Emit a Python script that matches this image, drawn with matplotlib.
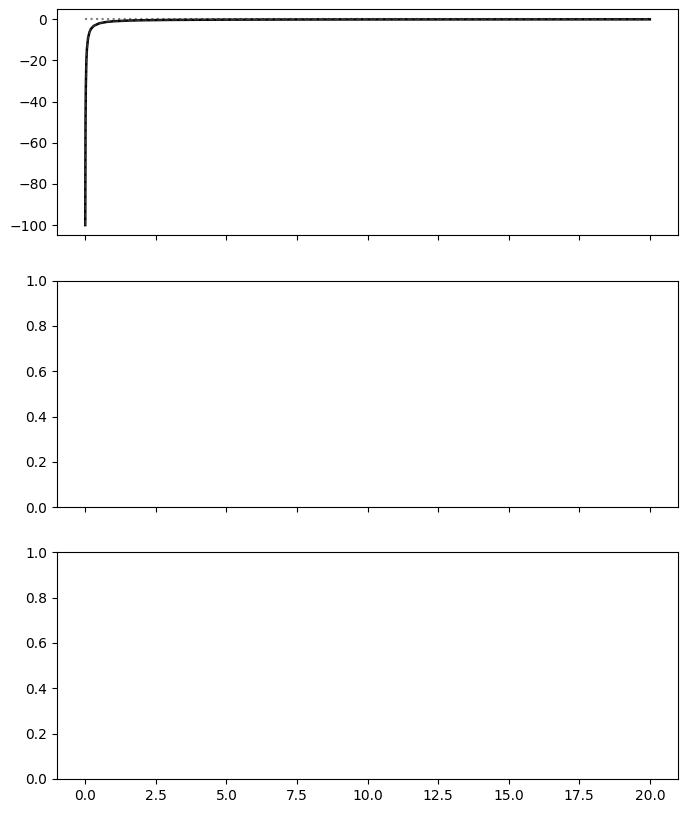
import numpy as np
import matplotlib
matplotlib.use('Agg')
import matplotlib.pyplot as plt

# values
t = [0, 0.01, 0.02, 0.04, 0.06, 0.1, 0.15, 0.2, 0.3, 0.5, 0.75, 1, 1.5, 2, 3, 5, 7.5, 10, 15, 20]
y = [-100, -50, -33.3, -20, -14.3, -9.1, -6.25, -4.76, -3.23, -1.96, -1.32, -0.99,
     -0.66, -0.5, -0.33, -0.2, -0.13, -0.1, -0.07, -0.05]
ref_t = [0, 20]
ref_y = [0, 0]

fig, axes = plt.subplots(3, 1, sharex=True, figsize=(6.87, 8.13), dpi=100)
fig.subplots_adjust(left=0.083, right=0.987, top=0.989, bottom=0.042, hspace=0.2)

ax = axes[0]
ax.plot(ref_t, ref_y, ':', color='gray')
ax.plot(t, y, color='black', lw=1.8)
ax.plot(t, y, '--', color='gray', lw=1.0, alpha=0.4)

plt.savefig('out.png')
